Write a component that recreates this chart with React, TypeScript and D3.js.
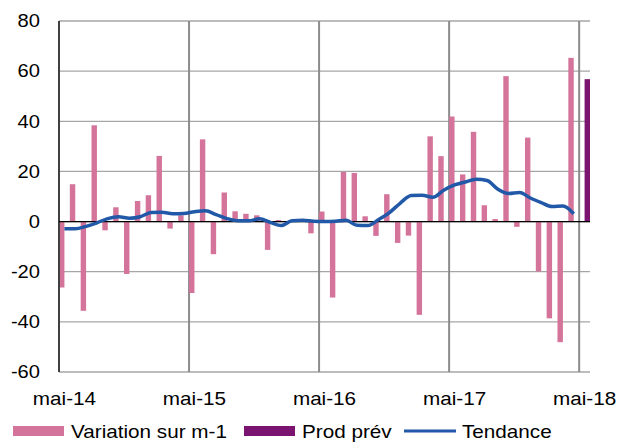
import React from 'react'
import * as d3 from 'd3'

// monthly categories, mai-14 .. mai-18
const months = [
  'mai-14', 'juin-14', 'juil-14', 'août-14', 'sept-14', 'oct-14', 'nov-14', 'déc-14',
  'janv-15', 'févr-15', 'mars-15', 'avr-15', 'mai-15', 'juin-15', 'juil-15', 'août-15',
  'sept-15', 'oct-15', 'nov-15', 'déc-15', 'janv-16', 'févr-16', 'mars-16', 'avr-16',
  'mai-16', 'juin-16', 'juil-16', 'août-16', 'sept-16', 'oct-16', 'nov-16', 'déc-16',
  'janv-17', 'févr-17', 'mars-17', 'avr-17', 'mai-17', 'juin-17', 'juil-17', 'août-17',
  'sept-17', 'oct-17', 'nov-17', 'déc-17', 'janv-18', 'févr-18', 'mars-18', 'avr-18',
  'mai-18',
]

// Variation sur m-1 (no value for mai-18)
const variation = [
  -26.3, 14.9, -35.6, 38.4, -3.5, 5.7, -20.9, 8.2,
  10.5, 26.2, -2.8, 2.5, -28.5, 32.8, -13.0, 11.6,
  4.1, 3.1, 2.5, -11.3, 0.6, 0.3, 0.3, -4.7,
  4.0, -30.3, 19.8, 19.4, 2.1, -5.7, 10.9, -8.5,
  -5.6, -37.2, 34.0, 26.1, 41.9, 18.8, 35.8, 6.5,
  1.0, 58.0, -2.1, 33.5, -19.9, -38.6, -48.1, 65.3,
  null,
]

// Prod prév
const prodPrev = [{ month: 'mai-18', value: 56.8 }]

// Tendance, mai-14 .. avr-18
const tendance = [
  -2.9, -2.9, -1.9, -0.5, 1.2, 1.9, 1.3, 1.9,
  3.6, 3.7, 3.1, 3.2, 3.9, 4.3, 2.8, 1.2,
  0.3, 0.3, 1.1, -0.3, -1.6, 0.3, 0.5, 0.1,
  0.0, 0.1, 0.5, -1.5, -1.6, 0.8, 3.6, 7.4,
  10.4, 10.5, 9.7, 12.5, 14.6, 15.8, 16.9, 16.4,
  12.9, 11.2, 11.6, 9.4, 7.6, 6.0, 6.2, 3.1,
]

const yTicks = [-60, -40, -20, 0, 20, 40, 60, 80]
const xTickLabels = ['mai-14', 'mai-15', 'mai-16', 'mai-17', 'mai-18']

const W = 619
const H = 444
const margin = { top: 21, right: 29, bottom: 72, left: 59 }

const PINK = '#d4749a'
const PURPLE = '#7a1470'
const BLUE = '#2158a8'
const FONT = '"Liberation Sans", Arial, sans-serif'
const STRETCH = 1.15

const App = () => {
  const x = d3.scaleBand<string>()
    .domain(months)
    .range([margin.left, W - margin.right])
    .padding(0)

  const x1 = d3.scaleBand<string>()
    .domain(['var', 'prev'])
    .range([0, x.bandwidth()])
    .padding(0)

  const y = d3.scaleLinear()
    .domain([-60, 80])
    .range([H - margin.bottom, margin.top])

  const line = d3.line<number>()
    .x((_, i) => (x(months[i]) as number) + x.bandwidth() / 2)
    .y(d => y(d))
    .curve(d3.curveMonotoneX)

  const left = margin.left
  const right = W - margin.right

  const legend = [
    { label: 'Variation sur m-1', kind: 'rect', color: PINK, x: 13 },
    { label: 'Prod prév', kind: 'rect', color: PURPLE, x: 244 },
    { label: 'Tendance', kind: 'line', color: BLUE, x: 404 },
  ]

  return (
    <svg width={W} height={H} style={{ position: 'absolute', left: 0, top: 0, background: '#fff' }} fontFamily={FONT}>
      {/* horizontal gridlines */}
      {yTicks.map(t => (
        <line key={'h' + t} x1={left} x2={right} y1={y(t)} y2={y(t)} stroke="#a6a6a6" strokeWidth={1.3} />
      ))}
      {/* vertical gridlines at each year */}
      {xTickLabels.slice(1).map(m => (
        <line key={'v' + m} x1={x(m)} x2={x(m)} y1={y(80)} y2={y(-60)} stroke="#8c8c8c" strokeWidth={2} />
      ))}

      {/* bars */}
      {variation.map((v, i) => v == null ? null : (
        <rect
          key={'b' + i}
          x={(x(months[i]) as number) + (x1('var') as number)}
          width={x1.bandwidth()}
          y={y(Math.max(0, v))}
          height={Math.abs(y(v) - y(0))}
          fill={PINK}
        />
      ))}
      {prodPrev.map(d => (
        <rect
          key={'p' + d.month}
          x={(x(d.month) as number) + (x1('prev') as number)}
          width={x1.bandwidth()}
          y={y(Math.max(0, d.value))}
          height={Math.abs(y(d.value) - y(0))}
          fill={PURPLE}
        />
      ))}

      {/* left axis + zero line */}
      <line x1={left} x2={left} y1={y(80)} y2={y(-60)} stroke="#404040" strokeWidth={2} />
      <line x1={left} x2={right} y1={y(0)} y2={y(0)} stroke="#000" strokeWidth={1.3} />

      {/* trend line */}
      <path d={line(tendance) || ''} fill="none" stroke={BLUE} strokeWidth={3.5} strokeLinejoin="round" />

      {/* y labels */}
      {yTicks.map(t => (
        <text key={'yl' + t} transform={`translate(40,${y(t)}) scale(${STRETCH},1)`} dy="0.36em" textAnchor="end" fontSize={17.5} fill="#000">
          {t}
        </text>
      ))}
      {/* x labels */}
      {xTickLabels.map(m => (
        <text key={'xl' + m} transform={`translate(${(x(m) as number) + x.bandwidth() / 2},405) scale(${STRETCH},1)`} textAnchor="middle" fontSize={18} fill="#000">
          {m}
        </text>
      ))}

      {/* legend */}
      {legend.map(l => (
        <g key={l.label}>
          {l.kind === 'rect'
            ? <rect x={l.x} y={426} width={51} height={10} fill={l.color} />
            : <line x1={l.x} x2={l.x + 52} y1={431} y2={431} stroke={l.color} strokeWidth={3} />}
          <text transform={`translate(${l.x + 58},437.5) scale(${STRETCH},1)`} fontSize={18} fill="#000">
            {l.label}
          </text>
        </g>
      ))}
    </svg>
  )
}

export default App
